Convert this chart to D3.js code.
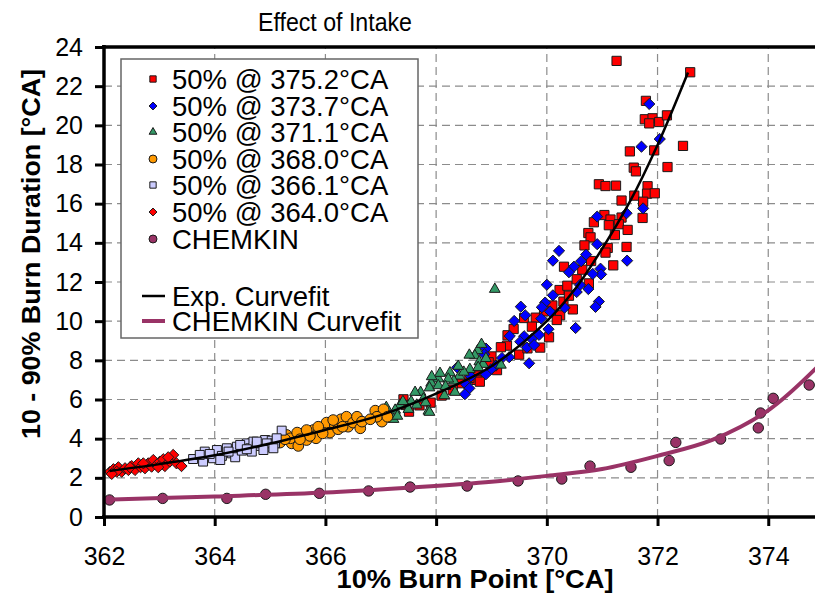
<!DOCTYPE html>
<html>
<head>
<meta charset="utf-8">
<script src="https://cdn.jsdelivr.net/npm/d3@7"></script>
<style>
  body { margin: 0; background: #fff; }
  svg { display: block; font-family: "Liberation Sans", Arial, sans-serif; }
</style>
</head>
<body>
<script>
// data: [10% burn point, 10-90% burn duration]

var s375 = [[371.26,23.29],[372.59,22.71],[371.79,21.25],[371.77,20.31],[371.91,20.36],[371.85,20.1],[372.03,20.17],[372.17,20.51],
    [372.46,18.95],[371.5,18.67],[371.94,18.72],[371.57,17.84],[371.61,17.65],[372.18,17.87],[370.94,16.99],[371.06,16.9],
    [371.25,16.92],[371.82,16.89],[371.81,16.51],[371.95,16.53],[371.58,16.41],[371.74,16.1],[371.35,16.16],[371.73,15.27],
    [371.04,15.42],[370.85,15.05],[371.15,15.19],[371.35,15.29],[371.12,14.9],[371.3,14.95],[370.75,14.5],[370.79,14.28],
    [371.23,14.4],[371.46,14.66],[370.68,13.87],[371.1,13.74],[371.06,13.5],[371.44,13.79],[370.8,13.07],[371.2,12.85],
    [370.31,12.78],[370.64,12.63],[370.76,11.93],[370.23,11.59],[370.37,11.81],[370.54,12.14],[370.47,10.6],[370.24,10.3],
    [370.18,10.06],[369.59,10.16],[369.8,10.18],[370.04,9.18],[369.73,9.72],[369.88,8.65],[369.29,9.28],[369.28,8.75],
    [369.5,8.29],[369.65,8.61],[369.17,8.67],[368.74,7.22],[368.73,7.0],[368.46,6.83],[368.79,6.91],[367.41,6.01],
    [367.45,5.72],[367.51,5.38],[367.9,5.84],[370.1,10.8],[370.3,11.0],[369.95,10.5],[370.4,11.3],[369.4,9.6],
    [369.0,8.2],[368.95,7.9],[369.1,7.5],[368.6,7.1],[368.3,6.5],[368.1,6.2],[367.7,5.7]];

var s373 = [[371.85,21.09],[371.71,18.91],[372.04,19.3],[371.74,15.76],[371.44,15.51],[370.91,15.34],[370.91,13.93],[370.22,13.59],
    [370.11,13.09],[370.71,13.4],[370.62,13.06],[370.49,12.78],[370.4,12.5],[370.97,12.68],[370.98,12.39],[370.83,12.41],
    [371.45,13.09],[370.0,11.86],[370.6,11.85],[370.75,11.64],[370.11,11.32],[370.54,11.49],[370.94,11.0],[370.88,10.73],
    [369.97,10.95],[369.91,10.71],[370.06,10.49],[370.32,10.69],[369.53,10.74],[369.61,10.3],[369.41,10.01],[369.9,10.13],
    [370.03,9.59],[370.52,9.65],[369.86,9.3],[369.59,9.23],[369.73,9.09],[369.64,8.65],[369.77,8.78],[369.52,8.95],
    [369.33,9.24],[368.9,8.6],[368.87,8.31],[369.32,8.16],[369.19,8.12],[369.68,7.85],[369.08,7.73],[368.99,7.54],
    [368.9,7.29],[368.38,7.64],[368.63,7.17],[368.54,6.78],[368.6,6.57],[368.52,6.27]];

var s371 = [[369.06,11.63],[368.75,8.5],[368.7,8.24],[368.82,8.82],[368.61,7.54],[368.42,7.2],[368.32,6.95],[368.25,7.37],
    [368.22,7.05],[368.04,7.06],[367.91,6.84],[367.88,6.6],[368.04,6.71],[368.17,6.67],[368.34,6.37],[368.15,6.2],
    [367.72,6.37],[367.62,6.37],[367.77,6.03],[367.55,5.89],[367.65,5.72],[367.81,5.84],[367.86,5.41],[367.88,5.35],
    [367.35,5.72],[367.26,5.46],[367.15,5.21],[367.23,4.99],[368.07,7.34],[367.92,7.17],[368.6,8.27],[368.78,7.93],
    [368.85,7.8],[369.17,7.76],[368.76,7.64],[367.0,5.3],[367.1,5.6],[367.4,5.9],[367.5,5.5],[368.5,7.4],
    [368.4,7.7],[368.9,8.1],[367.3,5.15]];

var s368 = [[365.3,4.19],[365.39,3.76],[365.51,3.63],[365.37,4.02],[365.6,4.19],[365.66,3.93],[365.78,4.44],[365.87,4.27],
    [365.83,4.02],[365.99,4.53],[366.02,4.82],[366.08,4.31],[366.17,4.7],[366.23,4.48],[366.28,4.99],[366.38,5.12],
    [366.41,4.61],[366.5,4.82],[366.57,5.12],[366.63,4.53],[366.66,4.87],[366.31,4.61],[365.95,4.27],[365.72,4.14],
    [365.49,4.31],[365.54,3.97],[365.18,3.8],[365.27,3.97],[366.9,5.43],[367.05,5.5],[367.02,4.87],[366.93,5.12],
    [366.81,4.99],[367.12,5.12],[366.14,4.95],[365.87,4.61],[365.66,4.44]];

var s366 = [[363.61,2.96],[363.79,2.83],[363.82,3.34],[363.97,3.0],[364.04,3.42],[364.13,3.12],[364.22,3.51],[364.31,3.25],
    [364.37,3.05],[364.4,3.59],[364.49,3.39],[364.58,3.76],[364.64,3.51],[364.7,3.85],[364.76,3.63],[364.82,3.76],
    [364.91,3.93],[364.97,3.59],[365.03,3.9],[365.09,3.76],[365.21,4.41],[363.91,3.22],[364.1,2.91],[364.25,3.34],
    [364.46,3.68],[364.67,3.34],[363.73,3.17],[364.58,3.46],[364.94,3.76],[365.06,3.51],[364.88,3.42],[364.76,3.85],
    [365.12,4.02]];

var s364 = [[362.11,2.31],[362.17,2.44],[362.26,2.54],[362.32,2.31],[362.38,2.49],[362.44,2.4],[362.5,2.6],[362.56,2.4],
    [362.62,2.74],[362.66,2.54],[362.74,2.49],[362.8,2.74],[362.86,2.57],[362.89,2.91],[362.95,2.66],[363.01,2.83],
    [363.07,2.95],[363.1,2.6],[363.19,2.83],[363.25,3.17],[363.31,2.74],[363.4,2.6],[362.23,2.31],[362.47,2.54],
    [362.71,2.74],[362.98,2.54],[363.16,3.05],[362.14,2.2]];

var chemkin = [[362.1,0.87],[363.06,0.95],[364.22,0.95],[364.92,1.16],[365.89,1.21],[366.78,1.33],[367.53,1.53],[368.56,1.58],
    [369.48,1.84],[370.27,1.94],[370.78,2.6],[371.52,2.54],[372.21,2.88],[372.33,3.81],[373.14,3.98],[373.82,4.55],
    [373.86,5.31],[374.09,6.06],[374.74,6.74]];

// curve fits
var expFit = [[362.1,2.35],[363,2.7],[364,3.15],[365,3.75],[366,4.45],[367,5.2],[368,6.3],[369,7.7],
    [370,10.0],[370.5,11.6],[371,13.7],[371.5,16.1],[372,19.0],[372.55,22.7]];

var chemFit = [[362,0.88],[364,1.05],[366,1.25],[367.5,1.5],[369,1.8],[370,2.1],[371,2.45],[372,3.12],
    [373,3.95],[374,5.45],[374.9,7.7]];

var xTicks = [362, 364, 366, 368, 370, 372, 374];
var yTicks = [0, 2, 4, 6, 8, 10, 12, 14, 16, 18, 20, 22, 24];

var legendNames = ["50% @ 375.2°CA", "50% @ 373.7°CA", "50% @ 371.1°CA", "50% @ 368.0°CA",
    "50% @ 366.1°CA", "50% @ 364.0°CA", "CHEMKIN"];

// ---------------------------------------------------------------

var w = 815, h = 595;

var svg = d3.select("body").append("svg")
    .attr("width", w)
    .attr("height", h);

var x = d3.scaleLinear().domain([362, 375]).range([104, 823.6]);
var y = d3.scaleLinear().domain([0, 24]).range([517, 47]);

// dashed grid
svg.append("g").selectAll("line")
    .data(xTicks.slice(1))
    .enter().append("line")
    .attr("x1", function(d) { return x(d); })
    .attr("x2", function(d) { return x(d); })
    .attr("y1", y(0))
    .attr("y2", y(24))
    .attr("stroke", "#8c8c8c")
    .attr("stroke-width", 1.2)
    .attr("stroke-dasharray", "8,5");

svg.append("g").selectAll("line")
    .data(yTicks.slice(1, -1))
    .enter().append("line")
    .attr("x1", x(362))
    .attr("x2", w)
    .attr("y1", function(d) { return y(d); })
    .attr("y2", function(d) { return y(d); })
    .attr("stroke", "#8c8c8c")
    .attr("stroke-width", 1.2)
    .attr("stroke-dasharray", "8,5");

// series styles (legend order)
var series = [
    { data: s375, type: d3.symbolSquare, size: 85, fill: "#ff0000", lsize: 40 },
    { data: s373, type: d3.symbolDiamond2, size: 80, fill: "#0000ff", lsize: 40 },
    { data: s371, type: d3.symbolTriangle, size: 50, fill: "#339966", lsize: 26 },
    { data: s368, type: d3.symbolCircle, size: 90, fill: "#ff9900", lsize: 50 },
    { data: s366, type: d3.symbolSquare, size: 80, fill: "#ccccff", lsize: 40 },
    { data: s364, type: d3.symbolDiamond2, size: 80, fill: "#ff0000", lsize: 40 },
    { data: chemkin, type: d3.symbolCircle, size: 85, fill: "#993366", lsize: 50 }
];

series.forEach(function(s) {
    svg.append("g").selectAll("path")
        .data(s.data)
        .enter().append("path")
        .attr("transform", function(d) { return "translate(" + x(d[0]) + "," + y(d[1]) + ")"; })
        .attr("d", d3.symbol().type(s.type).size(s.size))
        .attr("fill", s.fill)
        .attr("stroke", "#1a1a1a")
        .attr("stroke-width", 1);
});

// curve fits
var line = d3.line()
    .x(function(d) { return x(d[0]); })
    .y(function(d) { return y(d[1]); })
    .curve(d3.curveCatmullRom);

svg.append("path")
    .datum(chemFit)
    .attr("d", line)
    .attr("fill", "none")
    .attr("stroke", "#993366")
    .attr("stroke-width", 4);

svg.append("path")
    .datum(expFit)
    .attr("d", line)
    .attr("fill", "none")
    .attr("stroke", "#000")
    .attr("stroke-width", 2.5);

// axes
var yAxis = d3.axisLeft(y).tickValues(yTicks).tickSize(9).tickSizeOuter(0).tickPadding(12);
var xAxis = d3.axisBottom(x).tickValues(xTicks).tickSize(9).tickSizeOuter(0).tickPadding(21);

var gy = svg.append("g").attr("transform", "translate(" + x(362) + ",0)").call(yAxis);
var gx = svg.append("g").attr("transform", "translate(0," + y(0) + ")").call(xAxis);

[gx, gy].forEach(function(g) {
    g.select(".domain").remove();
    g.selectAll(".tick line").attr("stroke", "#000").attr("stroke-width", 3);
    g.selectAll(".tick text")
        .attr("font-size", 25)
        .attr("font-family", "'Liberation Sans', Arial, sans-serif")
        .attr("fill", "#000");
});

// axis lines and top frame
svg.append("line").attr("x1", x(362)).attr("x2", x(362)).attr("y1", y(24) - 2).attr("y2", y(0) + 2)
    .attr("stroke", "#000").attr("stroke-width", 3.5);
svg.append("line").attr("x1", x(362) - 2).attr("x2", w).attr("y1", y(0)).attr("y2", y(0))
    .attr("stroke", "#000").attr("stroke-width", 3.5);
svg.append("line").attr("x1", x(362) - 2).attr("x2", w).attr("y1", y(24)).attr("y2", y(24))
    .attr("stroke", "#000").attr("stroke-width", 3.5);

// titles
svg.append("text")
    .attr("x", 335).attr("y", 31)
    .attr("text-anchor", "middle")
    .attr("font-size", 26)
    .attr("textLength", 154)
    .attr("lengthAdjust", "spacingAndGlyphs")
    .text("Effect of Intake");

svg.append("text")
    .attr("x", 475).attr("y", 588)
    .attr("text-anchor", "middle")
    .attr("font-size", 26)
    .attr("font-weight", "bold")
    .attr("textLength", 277)
    .attr("lengthAdjust", "spacingAndGlyphs")
    .text("10% Burn Point [°CA]");

svg.append("text")
    .attr("transform", "translate(40,254) rotate(-90)")
    .attr("text-anchor", "middle")
    .attr("font-size", 26)
    .attr("font-weight", "bold")
    .attr("textLength", 370)
    .attr("lengthAdjust", "spacingAndGlyphs")
    .text("10 - 90% Burn Duration [°CA]");

// legend
var legend = svg.append("g");

legend.append("rect")
    .attr("x", 121).attr("y", 59)
    .attr("width", 297).attr("height", 279)
    .attr("fill", "#fff")
    .attr("stroke", "#666")
    .attr("stroke-width", 1.5);

var rowY = [79, 106, 132, 159, 185, 212, 239];

series.forEach(function(s, i) {
    legend.append("path")
        .attr("transform", "translate(153," + rowY[i] + ")")
        .attr("d", d3.symbol().type(s.type).size(s.lsize))
        .attr("fill", s.fill)
        .attr("stroke", "#1a1a1a")
        .attr("stroke-width", 1);
    legend.append("text")
        .attr("x", 172).attr("y", rowY[i])
        .attr("dy", "0.36em")
        .attr("font-size", 27.5)
        .text(legendNames[i]);
});

legend.append("line").attr("x1", 142).attr("x2", 165).attr("y1", 296).attr("y2", 296)
    .attr("stroke", "#000").attr("stroke-width", 2.5);
legend.append("text").attr("x", 172).attr("y", 296).attr("dy", "0.36em")
    .attr("font-size", 27.5).text("Exp. Curvefit");

legend.append("line").attr("x1", 142).attr("x2", 165).attr("y1", 321).attr("y2", 321)
    .attr("stroke", "#993366").attr("stroke-width", 4);
legend.append("text").attr("x", 172).attr("y", 321).attr("dy", "0.36em")
    .attr("font-size", 27.5).text("CHEMKIN Curvefit");
</script>
</body>
</html>
